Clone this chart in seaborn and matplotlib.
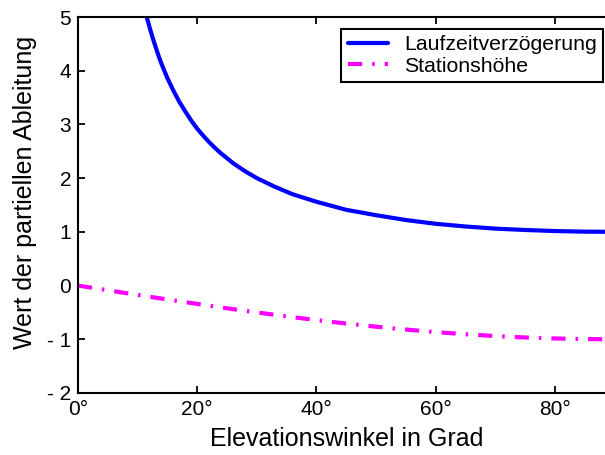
import matplotlib
matplotlib.use("Agg")
import matplotlib.pyplot as plt
import seaborn as sns
import pandas as pd

# Data
elev_delay = [11.5, 12, 12.5, 13, 13.5, 14, 15, 16, 17, 18, 19, 20, 21, 22, 23, 24, 26,
              28, 30, 33, 36, 40, 45, 50, 55, 60, 65, 70, 75, 80, 85, 90]
val_delay = [5.01, 4.81, 4.62, 4.45, 4.28, 4.13, 3.86, 3.63, 3.42, 3.24, 3.07, 2.92,
             2.79, 2.67, 2.56, 2.46, 2.28, 2.13, 2.00, 1.84, 1.70, 1.56, 1.41, 1.31,
             1.22, 1.15, 1.10, 1.06, 1.035, 1.015, 1.004, 1.0]
elev_height = [0, 5, 10, 15, 20, 25, 30, 35, 40, 45, 50, 55, 60, 65, 70, 75, 80, 85, 90]
val_height = [0, -0.087, -0.174, -0.259, -0.342, -0.423, -0.5, -0.574, -0.643, -0.707,
              -0.766, -0.819, -0.866, -0.906, -0.940, -0.966, -0.985, -0.996, -1.0]
series_names = ["Laufzeitverzögerung", "Stationshöhe"]
x_ticks = [0, 20, 40, 60, 80]
x_ticklabels = ["0°", "20°", "40°", "60°", "80°"]
y_ticks = [-2, -1, 0, 1, 2, 3, 4, 5]
y_ticklabels = ["- 2", "- 1", "0", "1", "2", "3", "4", "5"]

sns.set_style("white")
plt.rcParams["font.family"] = ["Liberation Sans", "DejaVu Sans"]
plt.rcParams["text.color"] = "black"
plt.rcParams["axes.labelcolor"] = "black"

W, H = 605, 455
fig = plt.figure(figsize=(W / 100, H / 100), dpi=100)
left, right_x90, top, bottom = 78, 614.6, 17, 393
ax_w = right_x90 - left
ax = fig.add_axes([left / W, (H - bottom) / H, ax_w / W, (bottom - top) / H])

df1 = pd.DataFrame({"x": elev_delay, "y": val_delay})
df2 = pd.DataFrame({"x": elev_height, "y": val_height})
sns.lineplot(data=df1, x="x", y="y", ax=ax, color="#0000ff", linewidth=3.0,
             label=series_names[0])
sns.lineplot(data=df2, x="x", y="y", ax=ax, color="#ff00ff", linewidth=3.0,
             linestyle=(0, (3.4, 2.4, 0.6, 2.4)), label=series_names[1])

ax.set_xlim(0, 90)
ax.set_ylim(-2, 5)
ax.set_xticks(x_ticks)
ax.set_xticklabels(x_ticklabels)
ax.set_yticks(y_ticks)
ax.set_yticklabels(y_ticklabels)
ax.tick_params(direction="in", length=5, width=1.3, labelsize=15, colors="black",
               top=True, right=True, bottom=True, left=True, pad=5)
for s in ax.spines.values():
    s.set_visible(True)
    s.set_color("black")
    s.set_linewidth(1.5)

ax.set_xlabel("Elevationswinkel in Grad", fontsize=18, labelpad=6)
ax.set_ylabel("Wert der partiellen Ableitung", fontsize=18)
ax.yaxis.set_label_coords((37 - left) / ax_w, (bottom - 192) / (bottom - top))

ax.get_legend().remove()
handles, labels = ax.get_legend_handles_labels()
leg = fig.legend(handles, labels, loc="upper right",
                 bbox_to_anchor=(603 / W, 1 - 29 / H), borderaxespad=0,
                 fontsize=15.3, frameon=True, fancybox=False, framealpha=1,
                 edgecolor="black", handlelength=1.9, handletextpad=0.75,
                 labelspacing=0.1, borderpad=0.3)
leg.get_frame().set_linewidth(1.5)

fig.savefig("out.png", dpi=100)
